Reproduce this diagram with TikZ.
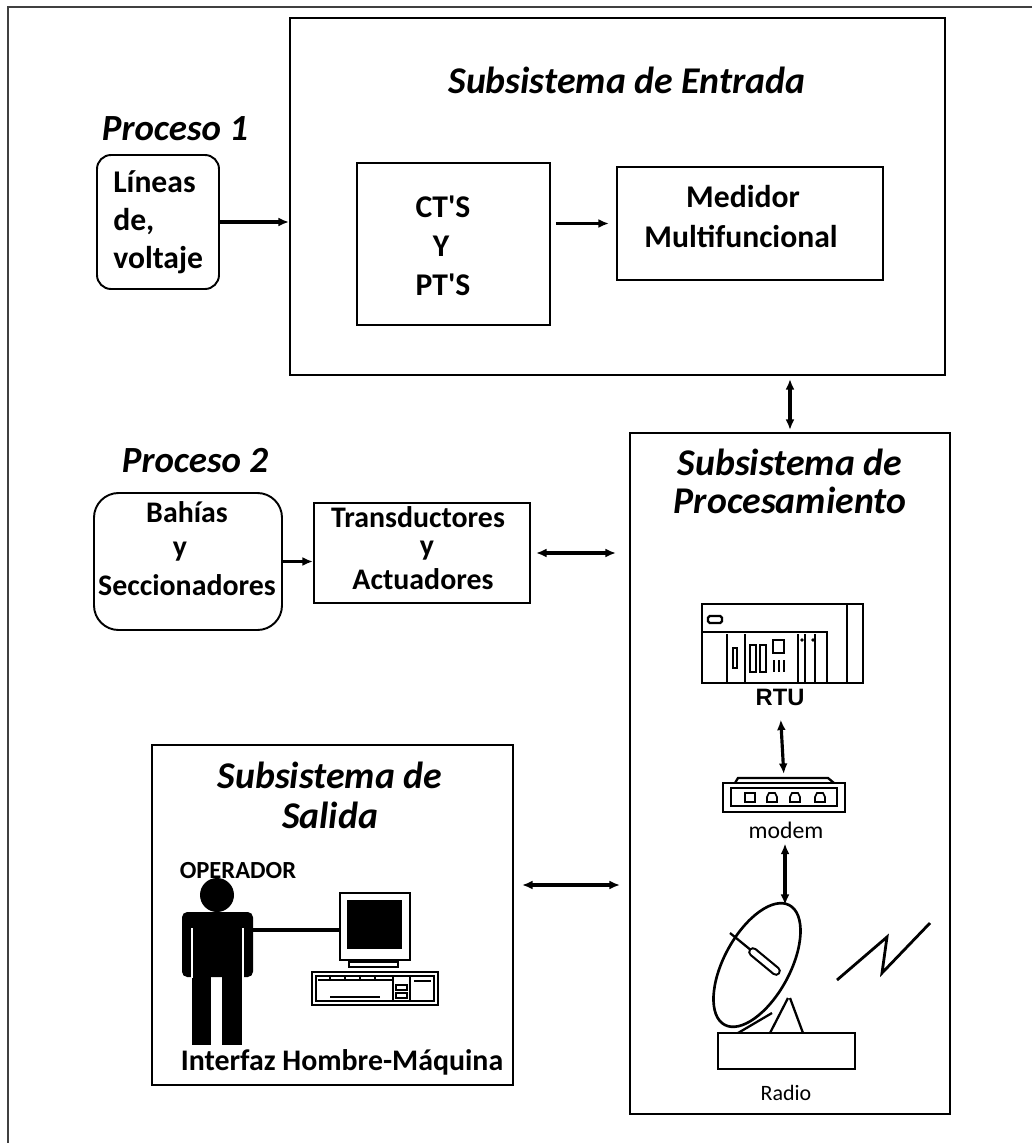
\documentclass[tikz,border=0pt]{standalone}
\usepackage{fontspec}
\setmainfont{Carlito}
\newfontfamily\arialfam{Liberation Sans}
\usetikzlibrary{arrows.meta}
\begin{document}
\begin{tikzpicture}[x=0.02cm, y=-0.02cm,
  blk/.style={draw, line width=1.1pt, inner sep=0pt},
  wd/.style={minimum width=#1*0.02cm},
  ht/.style={minimum height=#1*0.02cm},
  lbl/.style={anchor=base, inner sep=0pt},
  ttl/.style={lbl, font=\fontsize{21.5}{26}\selectfont\bfseries\itshape},
  prcttl/.style={lbl, font=\fontsize{21}{25}\selectfont\bfseries\itshape},
  boxtxt/.style={lbl, font=\fontsize{18}{22}\selectfont\bfseries},
  smalltxt/.style={lbl, font=\fontsize{17}{21}\selectfont\bfseries},
  tip/.tip={Latex[length=6pt,width=5pt]},
  arr/.style={line width=1.8pt, -tip},
  darr/.style={line width=1.8pt, tip-tip},
  ink/.style={line width=1.3pt},
]
\useasboundingbox (0,0) rectangle (1032,1143);

% outer frame
\draw[line width=1.2pt, black!75] (1032,7) -- (8,7) -- (8,1143);

% ---------- blocks ----------
\node[blk, wd=655, ht=357] (ent) at (617.5,196.5) {};
\node[blk, wd=193, ht=162] (cts) at (453.5,244) {};
\node[blk, wd=266, ht=113] (med) at (750,223.5) {};
\node[blk, wd=122, ht=134, rounded corners=8pt] (lin) at (158,222) {};
\node[blk, wd=320, ht=681] (proc) at (790,773.5) {};
\node[blk, wd=188, ht=137, rounded corners=14pt] (bah) at (188,561.5) {};
\node[blk, wd=216, ht=100] (trn) at (422,553) {};
\node[blk, wd=361, ht=340] (sal) at (332.5,915) {};

% ---------- titles ----------
\node[ttl] (entttl) at (627,93) {Subsistema de Entrada};
\node[prcttl] (p1) at (175,140) {Proceso 1};
\node[prcttl] (p2) at (195,472) {Proceso 2};
\node[ttl] (pt1) at (790,475) {Subsistema de};
\node[ttl] (pt2) at (790,513) {Procesamiento};
\node[ttl] (st1) at (330,788) {Subsistema de};
\node[ttl] (st2) at (330,828) {Salida};

% ---------- block texts ----------
\node[boxtxt, anchor=base west] (lin1) at (113,192) {Líneas};
\node[boxtxt, anchor=base west] (lin2) at (113,230) {de,};
\node[boxtxt, anchor=base west] (lin3) at (113,268) {voltaje};

\node[boxtxt] (ct1) at (443,217) {CT\textquotesingle S};
\node[boxtxt] (ct2) at (441,256) {Y};
\node[boxtxt] (ct3) at (443,295) {PT\textquotesingle S};

\node[boxtxt] (med1) at (743,207) {Medidor};
\node[boxtxt] (med2) at (741,247) {Multifuncional};

\node[smalltxt] (bah1) at (187,522) {Bahías};
\node[smalltxt] (bah2) at (180,556) {y};
\node[smalltxt] (bah3) at (187,595) {Seccionadores};

\node[smalltxt] (trn1) at (418,527) {Transductores};
\node[smalltxt] (trn2) at (427,555) {y};
\node[smalltxt] (trn3) at (423,589) {Actuadores};

% ---------- connectors ----------
\draw[arr] (lin.east) -- (ent.west |- lin.east);
\draw[arr, shorten <=5*0.02cm, shorten >=7*0.02cm] (cts.east |- med.west) -- (med.west);
\draw[darr, shorten <=3*0.02cm, shorten >=2*0.02cm] (ent.south -| proc.north) -- (proc.north);
\draw[arr] (bah.east) -- (trn.west |- bah.east);
\draw[darr, shorten <=5*0.02cm, shorten >=13*0.02cm] (trn.east) -- (proc.west |- trn.east);
\coordinate (linkrow) at (0,885);
\draw[darr, shorten <=8*0.02cm, shorten >=9*0.02cm] (sal.east |- linkrow) -- (proc.west |- linkrow);

% ---------- RTU ----------
\node[draw, line width=1.4pt, wd=161, ht=79, inner sep=0pt] (rtu) at (782.5,643.5) {};
\draw[ink] (847,604) -- (847,683);
\draw[ink, rounded corners=1pt] (708,616) rectangle (722,623);
\draw[ink] (702,632) -- (827,632) -- (827,683);
\foreach \xx in {727,745,798,805,815} \draw[line width=1pt] (\xx,634) -- (\xx,683);
\draw[line width=1pt] (733,648) rectangle (737,668);
\draw[line width=1pt] (750,645) rectangle (756,672);
\draw[line width=1pt] (760,645) rectangle (766,672);
\draw[line width=1pt] (773,640) rectangle (784,653);
\foreach \xx in {774,779,784} \draw[line width=1.2pt] (\xx,660) -- (\xx,672);
\fill (802,640) circle [radius=1.8];
\fill (813,640) circle [radius=1.8];
\node[lbl, font=\arialfam\fontsize{13.5}{16}\selectfont\bfseries] (rtulbl) at (780,705) {RTU};

% ---------- modem ----------
\node[draw, line width=1.4pt, wd=122, ht=29, inner sep=0pt] (modem) at (784,797.5) {};
\draw[ink] (735,783) -- (738,778) -- (828,778) -- (834,783);
\draw[line width=1pt] (731,788) rectangle (837,806);
\draw[line width=1pt] (745,793) rectangle (755,802);
\foreach \xx in {772,795,820}
  \draw[line width=1pt] (\xx-5,802) -- (\xx-5,797) -- (\xx-3,793) -- (\xx+3,793) -- (\xx+5,797) -- (\xx+5,802) -- cycle;
\node[lbl, font=\fontsize{13.5}{16}\selectfont] (modemlbl) at (786,838) {modem};

\draw[darr, shorten <=14*0.02cm, shorten >=4*0.02cm] (rtulbl.south) -- (modem.north |- 0,778);

% ---------- radio dish ----------
\coordinate (dishtop) at (785,905);
\draw[darr, shorten <=5*0.02cm] (modemlbl.south -| dishtop) -- (dishtop);
\begin{scope}[shift={(757,965)}, rotate=61.5]
  \draw[line width=1.5pt] (0,0) ellipse [x radius=68, y radius=33];
\end{scope}
\draw[ink] (730,933) -- (752,951);
\draw[line width=5.5pt, line cap=round] (753,952) -- (776,971);
\draw[white, line width=3pt, line cap=round] (753,952) -- (776,971);
\draw[ink] (738,1033) -- (772,1013);
\draw[ink] (770,1033) -- (788,998);
\draw[ink] (803,1033) -- (790,998);
\draw[line width=1.4pt] (718,1033) rectangle (855,1069);
\node[lbl, font=\fontsize{12.5}{15}\selectfont] (radio) at (786,1100) {Radio};
\draw[line width=1.6pt, line join=miter] (837,980) -- (887,937) -- (882,973) -- (930,923);

% ---------- operator and workstation ----------
\node[lbl, font=\fontsize{14}{16}\selectfont\bfseries] (oper) at (238,878) {OPERADOR};
\fill (217,895) circle [radius=17];
\fill[rounded corners=3pt] (182,912) rectangle (253,977);
\fill (192,970) rectangle (211,1045);
\fill (222,970) rectangle (242,1045);
\draw[white, line width=0.8pt] (192,928) -- (192,978);
\draw[white, line width=0.8pt] (243,928) -- (243,978);
\draw[line width=1.8pt] (253,930) -- (340,930);
\draw[line width=1.6pt] (340,893) rectangle (410,960);
\fill (347,900) rectangle (402,949);
\draw[line width=1.2pt] (349,962) rectangle (398,967);
\draw[line width=1.3pt] (312,972) rectangle (438,1005);
\draw[line width=0.8pt] (316,976) rectangle (434,1001);
\draw[line width=1pt] (318,980) -- (392,980);
\foreach \xx in {330,345,360,375} \draw[line width=0.8pt] (\xx,977) -- (\xx,980);
\draw[line width=0.8pt] (393,976) -- (393,1001);
\draw[line width=0.8pt] (410,976) -- (410,1001);
\draw[line width=0.8pt] (396,985) rectangle (407,990);
\draw[line width=0.8pt] (396,993) rectangle (407,998);
\draw[line width=1.2pt] (330,997) -- (380,997);
\draw[line width=0.8pt] (414,981) -- (431,981);
\node[smalltxt] (hmi) at (342,1070) {Interfaz Hombre-Máquina};

\end{tikzpicture}
\end{document}
